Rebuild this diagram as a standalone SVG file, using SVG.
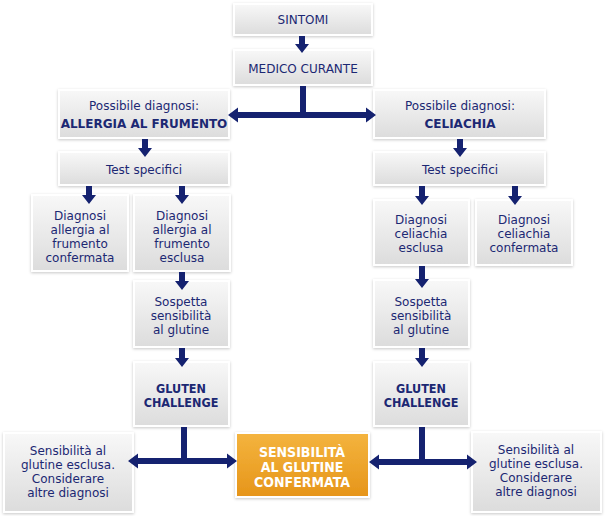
<svg xmlns="http://www.w3.org/2000/svg" width="605" height="516" viewBox="0 0 605 516">
<defs>
<linearGradient id="g" x1="0" y1="0" x2="0" y2="1">
<stop offset="0" stop-color="#f8f8f8"/>
<stop offset="1" stop-color="#dcdcdc"/>
</linearGradient>
<linearGradient id="o" x1="0" y1="0" x2="0" y2="1">
<stop offset="0" stop-color="#f4b43e"/>
<stop offset="1" stop-color="#e6951a"/>
</linearGradient>
<filter id="sh" x="-10%" y="-10%" width="120%" height="130%">
<feDropShadow dx="0" dy="1" stdDeviation="1.5" flood-color="#000" flood-opacity="0.22"/>
</filter>
</defs>
<style>
.b{fill:url(#g);stroke:#fff;stroke-width:2;filter:url(#sh)}
.ob{fill:url(#o);stroke:#fff;stroke-width:2;filter:url(#sh)}
text{font-family:"DejaVu Sans",sans-serif;font-size:12px;fill:#1c2873;text-anchor:middle}
.bd{font-weight:bold;font-size:12px}
.bg{font-family:"DejaVu Sans Condensed","DejaVu Sans",sans-serif;font-weight:bold;font-size:12.5px}
.w{font-family:"DejaVu Sans Condensed","DejaVu Sans",sans-serif;fill:#fff;font-weight:bold;font-size:14px}
.a{fill:#152270}
</style>
<rect width="605" height="516" fill="#fff"/>
<g id="sintomi"><rect class="b" x="234" y="4" width="138" height="31"/><text x="303" y="24">SINTOMI</text></g>
<g id="medico"><rect class="b" x="234" y="50" width="138" height="35"/><text x="303" y="73">MEDICO CURANTE</text></g>
<g id="poss-allergia"><rect class="b" x="59" y="90" width="170" height="48"/><text x="144" y="110">Possibile diagnosi:</text><text class="bd" x="144" y="128">ALLERGIA AL FRUMENTO</text></g>
<g id="poss-celiachia"><rect class="b" x="374" y="90" width="171" height="48"/><text x="460" y="110">Possibile diagnosi:</text><text class="bd" x="460" y="128">CELIACHIA</text></g>
<g id="test-left"><rect class="b" x="59" y="152" width="170" height="33"/><text x="144" y="174">Test specifici</text></g>
<g id="test-right"><rect class="b" x="374" y="152" width="171" height="33"/><text x="460" y="174">Test specifici</text></g>
<g id="allergia-confermata"><rect class="b" x="32" y="195" width="96" height="76"/><text x="80" y="220">Diagnosi</text><text x="80" y="234">allergia al</text><text x="80" y="248">frumento</text><text x="80" y="262">confermata</text></g>
<g id="allergia-esclusa"><rect class="b" x="134" y="195" width="96" height="76"/><text x="182" y="220">Diagnosi</text><text x="182" y="234">allergia al</text><text x="182" y="248">frumento</text><text x="182" y="262">esclusa</text></g>
<g id="celiachia-esclusa"><rect class="b" x="374" y="200" width="95" height="65"/><text x="421" y="224">Diagnosi</text><text x="421" y="238">celiachia</text><text x="421" y="252">esclusa</text></g>
<g id="celiachia-confermata"><rect class="b" x="476" y="200" width="96" height="65"/><text x="524" y="224">Diagnosi</text><text x="524" y="238">celiachia</text><text x="524" y="252">confermata</text></g>
<g id="sospetta-left"><rect class="b" x="134" y="281" width="95" height="66"/><text x="181" y="306">Sospetta</text><text x="181" y="320">sensibilità</text><text x="181" y="334">al glutine</text></g>
<g id="sospetta-right"><rect class="b" x="374" y="280" width="95" height="67"/><text x="421" y="306">Sospetta</text><text x="421" y="320">sensibilità</text><text x="421" y="334">al glutine</text></g>
<g id="gluten-left"><rect class="b" x="134" y="362" width="95" height="64"/><text class="bg" x="181" y="393">GLUTEN</text><text class="bg" x="181" y="407">CHALLENGE</text></g>
<g id="gluten-right"><rect class="b" x="374" y="362" width="95" height="64"/><text class="bg" x="421" y="393">GLUTEN</text><text class="bg" x="421" y="407">CHALLENGE</text></g>
<g id="esclusa-left"><rect class="b" x="4" y="433" width="129" height="79"/><text x="68" y="455">Sensibilità al</text><text x="68" y="469">glutine esclusa.</text><text x="68" y="483">Considerare</text><text x="68" y="497">altre diagnosi</text></g>
<g id="confermata"><rect class="ob" x="236" y="433" width="133" height="64"/><text class="w" x="302" y="457">SENSIBILITÀ</text><text class="w" x="302" y="472">AL GLUTINE</text><text class="w" x="302" y="487">CONFERMATA</text></g>
<g id="esclusa-right"><rect class="b" x="472" y="432" width="129" height="80"/><text x="536" y="454">Sensibilità al</text><text x="536" y="468">glutine esclusa.</text><text x="536" y="482">Considerare</text><text x="536" y="496">altre diagnosi</text></g>
<g id="connectors">
<path class="a" d="M299 36 H305 V44 H309 L302 53 L295 44 H299 Z"/>
<path class="a" d="M300 86 H306 V112 H366 V107.5 L376 115 L366 122.5 V118 H238 V122.5 L228 115 L238 107.5 V112 H300 Z"/>
<path class="a" d="M142 139 H148 V148 H152 L145 157 L138 148 H142 Z"/>
<path class="a" d="M457 139 H463 V148 H467 L460 157 L453 148 H457 Z"/>
<path class="a" d="M86 186 H92 V195 H96 L89 204 L82 195 H86 Z"/>
<path class="a" d="M179 186 H185 V195 H189 L182 204 L175 195 H179 Z"/>
<path class="a" d="M419 186 H425 V196 H429 L422 205 L415 196 H419 Z"/>
<path class="a" d="M512 186 H518 V196 H522 L515 205 L508 196 H512 Z"/>
<path class="a" d="M179 272 H185 V281 H189 L182 290 L175 281 H179 Z"/>
<path class="a" d="M419 266 H425 V279 H429 L422 288 L415 279 H419 Z"/>
<path class="a" d="M179 348 H185 V358 H189 L182 367 L175 358 H179 Z"/>
<path class="a" d="M419 348 H425 V358 H429 L422 367 L415 358 H419 Z"/>
<path class="a" d="M181 427 H187 V458 H227 V453.5 L237 461 L227 468.5 V464 H138 V468.5 L128 461 L138 453.5 V458 H181 Z"/>
<path class="a" d="M419 427 H425 V459 H467 V454.5 L477 462 L467 469.5 V465 H379 V469.5 L369 462 L379 454.5 V459 H419 Z"/>
</g>
</svg>
